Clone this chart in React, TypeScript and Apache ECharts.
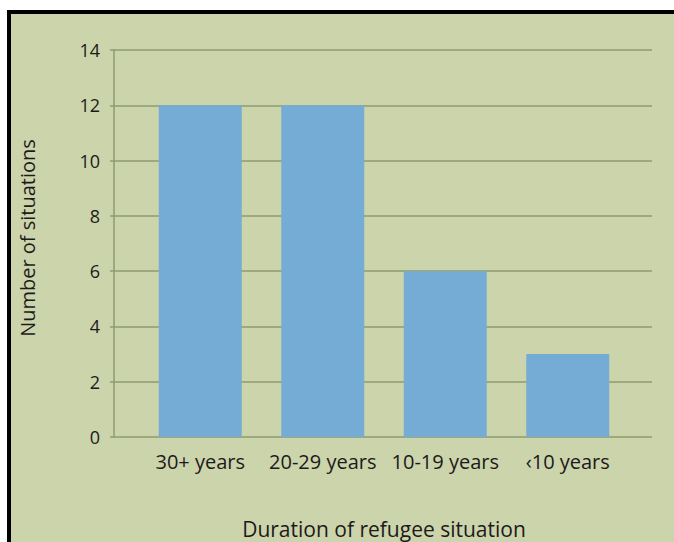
import React, { useEffect, useRef } from "react";
import * as echarts from "echarts";

const categories = ["30+ years", "20-29 years", "10-19 years", "‹10 years"];
const situations = [12, 12, 6, 3];
const yTicks = { min: 0, max: 14, interval: 2 };
const yTitle = "Number of situations";
const xTitle = "Duration of refugee situation";

const FONT = "'Open Sans', 'Noto Sans', sans-serif";
const TEXT = "#1c1a1a";
const GRID = "#8e9c6e";
const BAR = "#74acd5";
const BG = "#ccd4ab";

export default function App() {
  const ref = useRef<HTMLDivElement>(null);
  useEffect(() => {
    if (!ref.current) return;
    const chart = echarts.init(ref.current, null, { renderer: "svg" });
    chart.setOption({
      animation: false,
      backgroundColor: "transparent",
      grid: [
        { left: 114, right: 22, top: 50, bottom: 105 },
        { left: 139, right: 45, top: 50, bottom: 105 },
      ],
      xAxis: [
        { gridIndex: 0, type: "category", data: [], show: false },
        {
          gridIndex: 1,
          type: "category",
          data: categories,
          axisLine: { show: false },
          axisTick: { show: false },
          axisLabel: { color: TEXT, fontFamily: FONT, fontSize: 20, margin: 14, interval: 0 },
        },
      ],
      yAxis: [
        {
          gridIndex: 0,
          type: "value",
          min: yTicks.min,
          max: yTicks.max,
          interval: yTicks.interval,
          axisLine: { show: true, lineStyle: { color: GRID, width: 1.5 } },
          axisTick: { show: true, length: 4, lineStyle: { color: GRID, width: 1.5 } },
          splitLine: { show: true, lineStyle: { color: GRID, width: 1.5 } },
          axisLabel: { color: TEXT, fontFamily: FONT, fontSize: 18, margin: 14 },
        },
        {
          gridIndex: 1,
          type: "value",
          min: yTicks.min,
          max: yTicks.max,
          interval: yTicks.interval,
          show: false,
        },
      ],
      series: [
        {
          type: "bar",
          xAxisIndex: 1,
          yAxisIndex: 1,
          data: situations,
          barWidth: 83,
          itemStyle: { color: BAR },
        },
      ],
      graphic: [
        {
          type: "text",
          x: 27,
          y: 238,
          rotation: Math.PI / 2,
          style: {
            text: yTitle,
            fill: TEXT,
            font: `20px ${FONT}`,
            align: "center",
            verticalAlign: "middle",
          },
        },
        {
          type: "text",
          x: 384,
          y: 529,
          style: {
            text: xTitle,
            fill: TEXT,
            font: `21px ${FONT}`,
            align: "center",
            verticalAlign: "middle",
          },
        },
      ],
    });
    return () => chart.dispose();
  }, []);
  return (
    <div style={{ position: "fixed", left: 0, top: 0, width: 674, height: 542, background: "#fff", overflow: "hidden" }}>
      <div
        style={{
          position: "absolute",
          left: 7,
          top: 10,
          right: 0,
          bottom: 0,
          background: BG,
          borderTop: "4px solid #000",
          borderLeft: "4px solid #000",
          boxSizing: "border-box",
        }}
      />
      <div ref={ref} style={{ position: "absolute", left: 0, top: 0, width: 674, height: 542 }} />
    </div>
  );
}
